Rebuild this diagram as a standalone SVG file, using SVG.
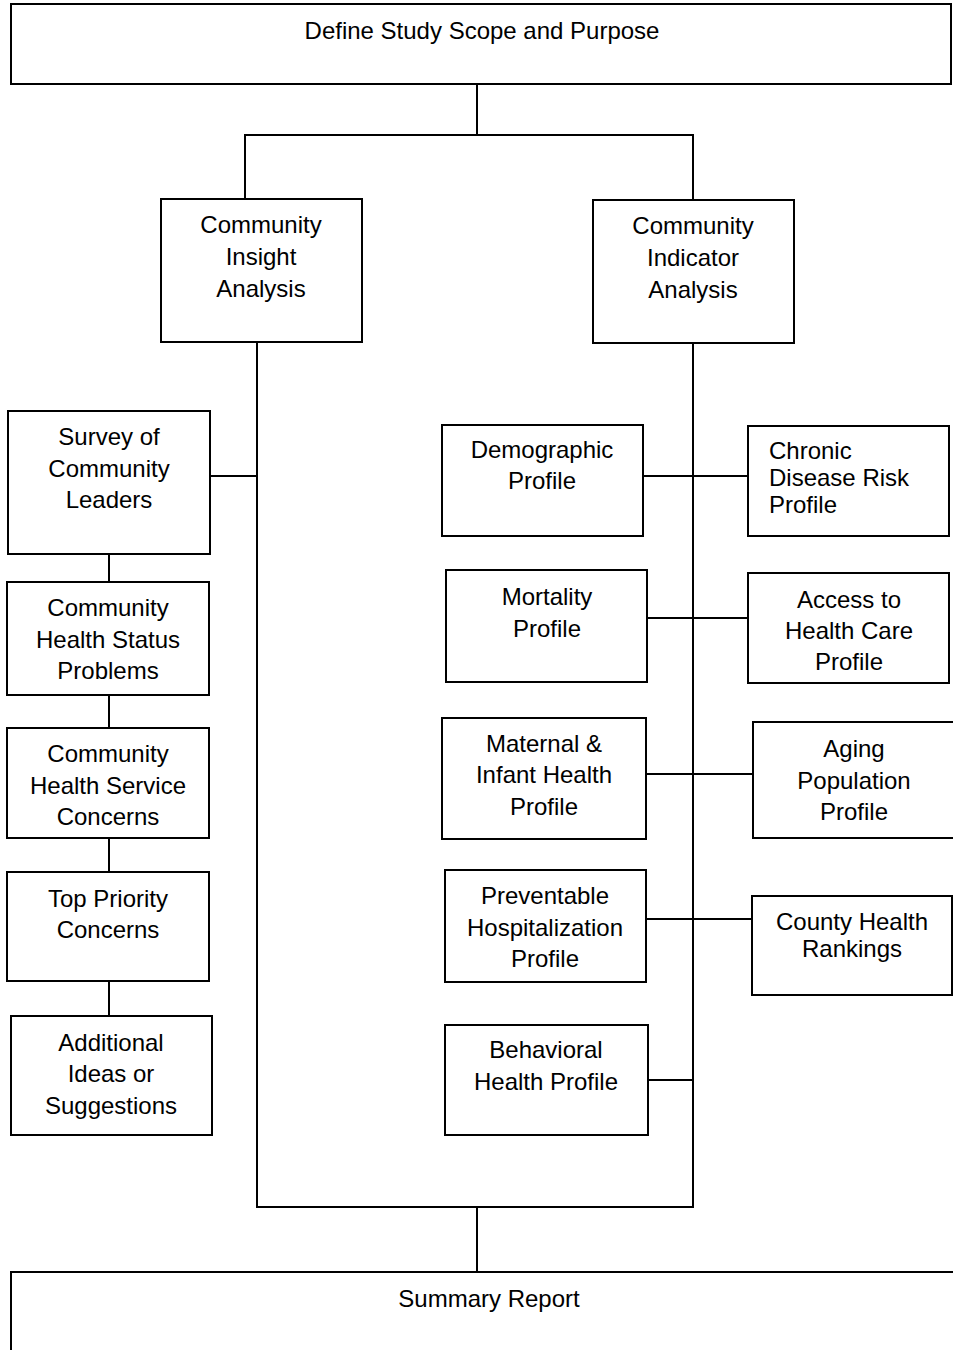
<svg xmlns="http://www.w3.org/2000/svg" width="953" height="1350" viewBox="0 0 953 1350">
<style>
rect{fill:#fff;stroke:#000;stroke-width:2}
line,polyline{stroke:#000;stroke-width:2;fill:none}
text{font-family:"Liberation Sans",Arial,sans-serif;font-size:24px;fill:#000;text-anchor:middle}
.l{text-anchor:start}
</style>
<rect x="0" y="0" width="953" height="1350" style="fill:#fff;stroke:none"/>
<g id="connectors">
<line x1="477" y1="84" x2="477" y2="135"/>
<polyline points="245,199 245,135 693,135 693,200"/>
<polyline points="257,342 257,1207 693,1207 693,343"/>
<line x1="477" y1="1207" x2="477" y2="1272"/>
<line x1="209" y1="476" x2="257" y2="476"/>
<line x1="109" y1="554" x2="109" y2="582"/>
<line x1="109" y1="695" x2="109" y2="728"/>
<line x1="109" y1="838" x2="109" y2="872"/>
<line x1="109" y1="981" x2="109" y2="1016"/>
<line x1="643" y1="476" x2="748" y2="476"/>
<line x1="641" y1="618" x2="748" y2="618"/>
<line x1="646" y1="774" x2="753" y2="774"/>
<line x1="646" y1="919" x2="752" y2="919"/>
<line x1="648" y1="1080" x2="693" y2="1080"/>
</g>
<g id="define-scope"><rect x="11" y="4" width="940" height="80"/><text x="482" y="39">Define Study Scope and Purpose</text></g>
<g id="insight-analysis"><rect x="161" y="199" width="201" height="143"/><text x="261" y="233">Community</text><text x="261" y="265">Insight</text><text x="261" y="297">Analysis</text></g>
<g id="indicator-analysis"><rect x="593" y="200" width="201" height="143"/><text x="693" y="234">Community</text><text x="693" y="266">Indicator</text><text x="693" y="298">Analysis</text></g>
<g id="survey"><rect x="8" y="411" width="202" height="143"/><text x="109" y="445">Survey of</text><text x="109" y="477">Community</text><text x="109" y="508">Leaders</text></g>
<g id="status-problems"><rect x="7" y="582" width="202" height="113"/><text x="108" y="616">Community</text><text x="108" y="648">Health Status</text><text x="108" y="679">Problems</text></g>
<g id="service-concerns"><rect x="7" y="728" width="202" height="110"/><text x="108" y="762">Community</text><text x="108" y="794">Health Service</text><text x="108" y="825">Concerns</text></g>
<g id="top-priority"><rect x="7" y="872" width="202" height="109"/><text x="108" y="907">Top Priority</text><text x="108" y="938">Concerns</text></g>
<g id="additional-ideas"><rect x="11" y="1016" width="201" height="119"/><text x="111" y="1051">Additional</text><text x="111" y="1082">Ideas or</text><text x="111" y="1114">Suggestions</text></g>
<g id="demographic"><rect x="442" y="425" width="201" height="111"/><text x="542" y="458">Demographic</text><text x="542" y="489">Profile</text></g>
<g id="chronic-disease"><rect x="748" y="426" width="201" height="110"/><text class="l" x="769" y="459">Chronic</text><text class="l" x="769" y="486">Disease Risk</text><text class="l" x="769" y="513">Profile</text></g>
<g id="mortality"><rect x="446" y="570" width="201" height="112"/><text x="547" y="605">Mortality</text><text x="547" y="637">Profile</text></g>
<g id="access-care"><rect x="748" y="573" width="201" height="110"/><text x="849" y="608">Access to</text><text x="849" y="639">Health Care</text><text x="849" y="670">Profile</text></g>
<g id="maternal-infant"><rect x="442" y="718" width="204" height="121"/><text x="544" y="752">Maternal &amp;</text><text x="544" y="783">Infant Health</text><text x="544" y="815">Profile</text></g>
<g id="aging-population"><rect x="753" y="722" width="210" height="116"/><text x="854" y="757">Aging</text><text x="854" y="789">Population</text><text x="854" y="820">Profile</text></g>
<g id="preventable-hosp"><rect x="445" y="870" width="201" height="112"/><text x="545" y="904">Preventable</text><text x="545" y="936">Hospitalization</text><text x="545" y="967">Profile</text></g>
<g id="county-rankings"><rect x="752" y="896" width="200" height="99"/><text x="852" y="930">County Health</text><text x="852" y="957">Rankings</text></g>
<g id="behavioral"><rect x="445" y="1025" width="203" height="110"/><text x="546" y="1058">Behavioral</text><text x="546" y="1090">Health Profile</text></g>
<g id="summary-report"><rect x="11" y="1272" width="960" height="100"/><text x="489" y="1307">Summary Report</text></g>
</svg>
